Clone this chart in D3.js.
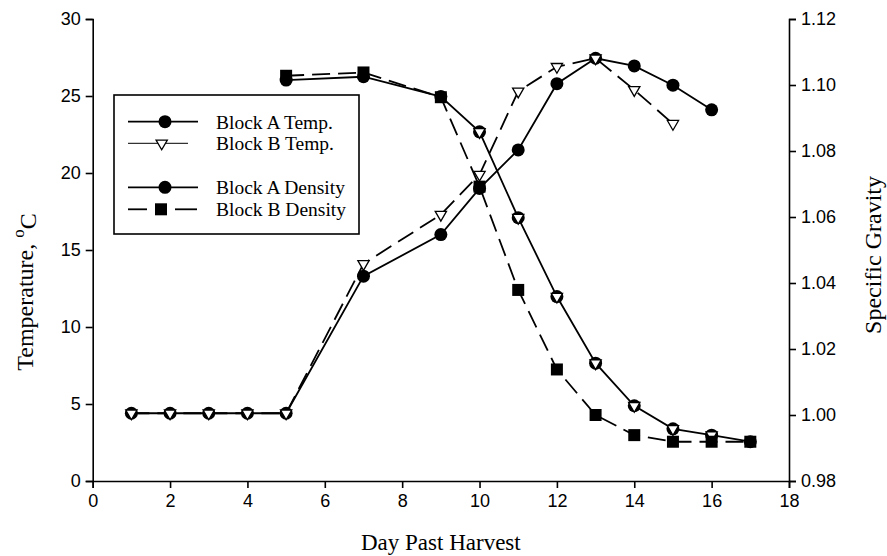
<!DOCTYPE html>
<html><head><meta charset="utf-8">
<script src="https://cdn.jsdelivr.net/npm/d3@7"></script>
<style>body{margin:0;background:#fff}svg{display:block}</style>
</head><body>
<svg id="c" width="887" height="556"></svg>
<script>
// ---- data ----
const daysTempA = [1,2,3,4,5,7,9,10,11,12,13,14,15,16];
const tempA     = [4.4,4.4,4.4,4.4,4.4,13.3,16.0,19.0,21.5,25.8,27.45,26.95,25.7,24.1];
const daysTempB = [1,2,3,4,5,7,9,10,11,12,13,14,15];
const tempB     = [4.4,4.4,4.4,4.4,4.4,14.1,17.3,19.9,25.3,26.9,27.45,25.4,23.2];
const daysDensA = [5,7,9,10,11,12,13,14,15,16,17];
const densA     = [1.1015,1.1025,1.0965,1.0858,1.0598,1.0359,1.0157,1.0028,0.9958,0.9939,0.9919];
const daysDensB = [5,7,9,10,11,12,13,14,15,16,17];
const densB     = [1.1028,1.1038,1.0963,1.0692,1.0379,1.0138,1.0000,0.9939,0.9919,0.9919,0.9919];
const xTicks = [0,2,4,6,8,10,12,14,16,18];
const yTicksT = [0,5,10,15,20,25,30];
const yTicksD = [0.98,1.00,1.02,1.04,1.06,1.08,1.10,1.12];
const legendLabels = ["Block A Temp.","Block B Temp.","Block A Density","Block B Density"];
const xTitle = "Day Past Harvest";
const yTitleR = "Specific Gravity";

// ---- layout ----
const L = 92.7, R = 789, T = 19, B = 481;
const svg = d3.select("#c");
const x = d3.scaleLinear().domain([0,18]).range([L,R]);
const yT = d3.scaleLinear().domain([0,30]).range([B,T]);
const yD = d3.scaleLinear().domain([0.98,1.12]).range([B,T]);

const sans = "'Liberation Sans', Arial, sans-serif";
const serif = "'Liberation Serif', 'Times New Roman', serif";

function styleAxis(g){
  g.select(".domain").attr("stroke","#000").attr("stroke-width",1.6);
  g.selectAll(".tick line").attr("stroke","#000").attr("stroke-width",1.6);
  g.selectAll(".tick text").attr("font-family",sans).attr("font-size",18).attr("fill","#000");
}
svg.append("g").attr("transform",`translate(0,${B})`)
  .call(d3.axisBottom(x).tickValues(xTicks).tickSizeOuter(0).tickSize(7).tickPadding(6).tickFormat(d3.format("d")))
  .call(styleAxis);
svg.append("g").attr("transform",`translate(${L},0)`)
  .call(d3.axisLeft(yT).tickValues(yTicksT).tickSizeOuter(0).tickSize(7).tickPadding(5).tickFormat(d3.format("d")))
  .call(styleAxis);
svg.append("g").attr("transform",`translate(${R},0)`)
  .call(d3.axisRight(yD).tickValues(yTicksD).tickSizeOuter(0).tickSize(7).tickPadding(5).tickFormat(d3.format(".2f")))
  .call(styleAxis);

// titles
svg.append("text").attr("x",(L+R)/2).attr("y",550).attr("text-anchor","middle")
  .attr("font-family",serif).attr("font-size",23).text(xTitle);
const tl = svg.append("text").attr("transform",`translate(33,292) rotate(-90)`)
  .attr("text-anchor","middle").attr("font-family",serif).attr("font-size",24);
tl.append("tspan").text("Temperature, ");
tl.append("tspan").attr("dy",-9).attr("font-size",17).text("o");
tl.append("tspan").attr("dy",12).text("C");
svg.append("text").attr("transform",`translate(881,255) rotate(-90)`)
  .attr("text-anchor","middle").attr("font-family",serif).attr("font-size",24).text(yTitleR);

// symbols
const rC = 6.5;
function circle(g, cx, cy){ g.append("circle").attr("cx",cx).attr("cy",cy).attr("r",rC).attr("fill","#000"); }
function tri(g, cx, cy, sw){
  const r = rC;
  const p = [[cx - r*0.866, cy - r*0.5],[cx + r*0.866, cy - r*0.5],[cx, cy + r]];
  g.append("path").attr("d","M"+p.map(q=>q.join(",")).join("L")+"Z")
    .attr("fill","#fff").attr("stroke","#000").attr("stroke-width",sw||1.3).attr("stroke-linejoin","miter");
}
function square(g, cx, cy){ g.append("rect").attr("x",cx-6).attr("y",cy-6).attr("width",12).attr("height",12).attr("fill","#000"); }

function series(days, vals, yScale, dash, width){
  const pts = days.map((d,i)=>[x(d), yScale(vals[i])]);
  svg.append("path").attr("d", d3.line()(pts)).attr("fill","none").attr("stroke","#000")
    .attr("stroke-width",width).attr("stroke-dasharray",dash||null);
  return pts;
}

const pDA = series(daysDensA, densA, yD, null, 1.8);
const pDB = series(daysDensB, densB, yD, "18,8", 1.8);
const pTA = series(daysTempA, tempA, yT, null, 1.8);
const pTB = series(daysTempB, tempB, yT, "18,8", 1.8);

const gm = svg.append("g");
pDA.forEach(([cx,cy],i)=>{ circle(gm,cx,cy); if(daysDensA[i]>=10 && daysDensA[i]<=16) tri(gm,cx,cy,1.3); });
pDB.forEach(([cx,cy])=>square(gm,cx,cy));
pTA.forEach(([cx,cy])=>circle(gm,cx,cy));
pTB.forEach(([cx,cy])=>tri(gm,cx,cy,1.3));

// legend
const lg = svg.append("g");
lg.append("rect").attr("x",114).attr("y",95).attr("width",245).attr("height",139)
  .attr("fill","#fff").attr("stroke","#000").attr("stroke-width",1.6);
const rowsY = [121.7,143.3,187.3,209.3];
const tx = 216;
function seg(x1,x2,y,w){ lg.append("line").attr("x1",x1).attr("x2",x2).attr("y1",y).attr("y2",y).attr("stroke","#000").attr("stroke-width",w); }
seg(128,198,rowsY[0],1.8); circle(lg,165,rowsY[0]);
seg(128,188,rowsY[1],1);   tri(lg,161.7,rowsY[1],1.3);
seg(128,198,rowsY[2],1.8); circle(lg,165,rowsY[2]);
seg(128,147,rowsY[3],1.8); seg(175,197,rowsY[3],1.8); square(lg,161,rowsY[3]);
legendLabels.forEach((t,i)=>{
  lg.append("text").attr("x",tx).attr("y",rowsY[i]).attr("dy","0.35em")
    .attr("font-family",serif).attr("font-size",19.5).attr("fill","#000").text(t);
});
</script>
</body></html>
